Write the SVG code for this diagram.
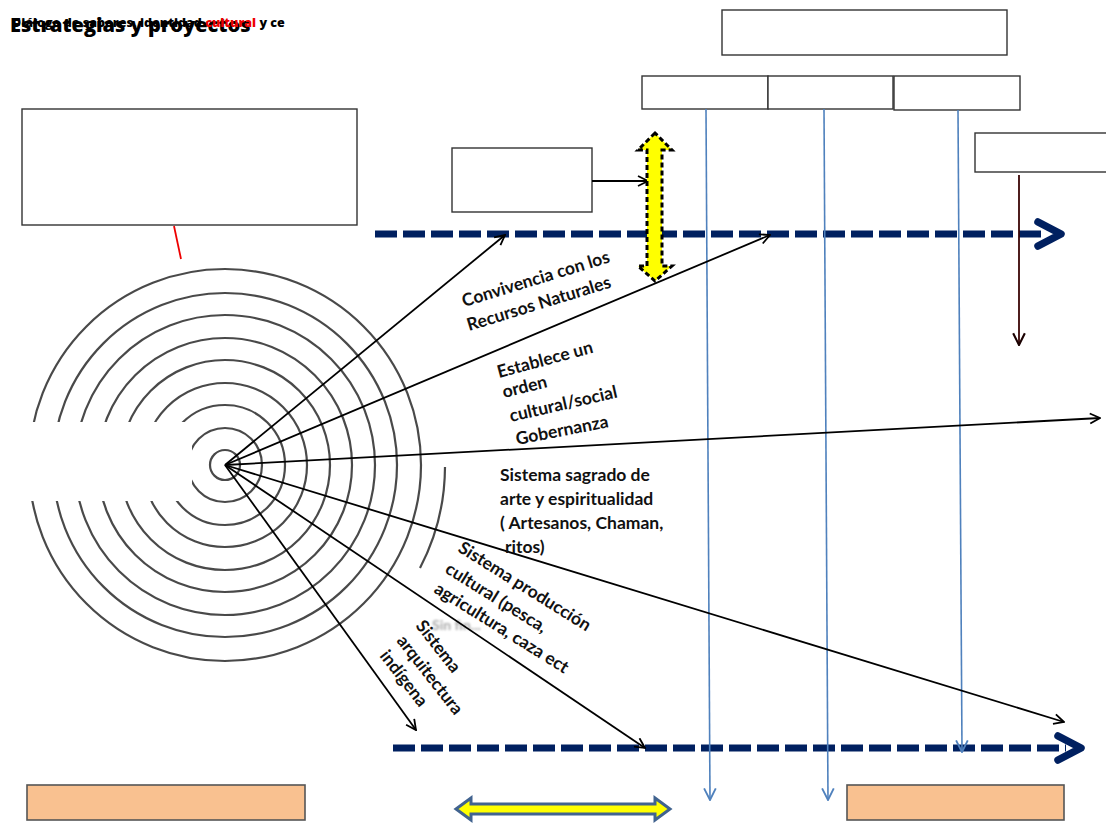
<svg xmlns="http://www.w3.org/2000/svg" width="1106" height="823" viewBox="0 0 1106 823">
<style>
.box{fill:#fff;stroke:#333;stroke-width:1.4}
.obox{fill:#f9c190;stroke:#555;stroke-width:1.6}
.ray{stroke:#000;stroke-width:1.8;fill:none}
.blue{stroke:#4f81bd;stroke-width:1.6;fill:none}
.dash{stroke:#002060;stroke-width:7;stroke-dasharray:22 6;fill:none}
.chev{stroke:#002060;stroke-width:7.5;fill:none;stroke-linecap:round;stroke-linejoin:round}
.ring{fill:none;stroke:#4a4a4a;stroke-width:2.2}
.lbl{font-family:Lato,"Open Sans","Liberation Sans",sans-serif;font-weight:bold;font-size:17.5px;fill:#111}
.hd{font-family:"Open Sans","Liberation Sans",sans-serif;font-weight:800;fill:#000}
</style>
<defs>
<marker id="ah" viewBox="0 0 12 12" refX="11" refY="6" markerWidth="12" markerHeight="12" markerUnits="userSpaceOnUse" orient="auto">
<path d="M1,1 L11,6 L1,11" fill="none" stroke="#000" stroke-width="1.8"/>
</marker>
<marker id="ahb" viewBox="0 0 12 12" refX="11" refY="6" markerWidth="14" markerHeight="14" markerUnits="userSpaceOnUse" orient="auto">
<path d="M1,1 L11,6 L1,11" fill="none" stroke="#4f81bd" stroke-width="1.6"/>
</marker>
<marker id="ahr" viewBox="0 0 12 12" refX="11" refY="6" markerWidth="14" markerHeight="14" markerUnits="userSpaceOnUse" orient="auto">
<path d="M1,1 L11,6 L1,11" fill="none" stroke="#1a0000" stroke-width="1.8"/>
</marker>
<filter id="soft"><feGaussianBlur stdDeviation="0.6"/></filter>
<filter id="blur2"><feGaussianBlur stdDeviation="0.9"/></filter>
</defs>

<g id="title">
<text class="hd" x="10" y="32" font-size="20">Estrategias y proyectos</text>
<text class="hd" x="12" y="27" font-size="12.5">Diálogo de saberes, identidad <tspan fill="#e00">cultural</tspan> y ce</text>
</g>

<g id="spiral" filter="url(#soft)">
<circle class="ring" cx="225" cy="465" r="15"/>
<circle class="ring" cx="225" cy="465" r="37"/>
<circle class="ring" cx="225" cy="465" r="60"/>
<circle class="ring" cx="225" cy="465" r="82"/>
<circle class="ring" cx="225" cy="465" r="105"/>
<circle class="ring" cx="225" cy="465" r="127"/>
<circle class="ring" cx="225" cy="465" r="150"/>
<circle class="ring" cx="225" cy="465" r="172"/>
<circle class="ring" cx="225" cy="465" r="196"/>
<path class="ring" d="M445,467 A220,220 0 0 1 420,568"/>
</g>
<rect id="mask" x="0" y="422" width="192" height="79" fill="#fff"/>
<text id="sinfin" x="432" y="630" font-family="Lato,'Liberation Sans',sans-serif" font-size="14" font-weight="bold" fill="#aaa" filter="url(#blur2)">Sin fin...</text>

<g id="box-top"><rect class="box" x="722" y="10" width="285" height="45"/></g>
<g id="box-a"><rect class="box" x="642" y="76" width="126" height="33"/></g>
<g id="box-b"><rect class="box" x="768" y="76" width="125" height="33"/></g>
<g id="box-c"><rect class="box" x="894" y="76" width="126" height="34"/></g>
<g id="box-right"><rect class="box" x="975" y="133" width="140" height="39"/></g>
<g id="box-left"><rect class="box" x="22" y="109" width="335" height="116"/></g>
<g id="box-small"><rect class="box" x="452" y="148" width="140" height="64"/></g>
<g id="box-bl"><rect class="obox" x="27" y="785" width="278" height="35"/></g>
<g id="box-br"><rect class="obox" x="847" y="785" width="217" height="35"/></g>

<g id="connectors">
<line x1="174" y1="226" x2="181" y2="259" stroke="#e00" stroke-width="1.8"/>
<line class="dash" x1="375" y1="234" x2="1046" y2="234"/>
<polyline class="chev" points="1038,222 1061,234 1038,246"/>
<line class="dash" x1="393" y1="748" x2="1066" y2="748"/>
<polyline class="chev" points="1058,736 1081,748 1058,760"/>

<line class="blue" x1="706" y1="109" x2="710" y2="800" marker-end="url(#ahb)"/>
<line class="blue" x1="824" y1="109" x2="828" y2="800" marker-end="url(#ahb)"/>
<line class="blue" x1="958" y1="110" x2="962" y2="752" marker-end="url(#ahb)"/>

<line x1="1019" y1="175" x2="1019" y2="345" stroke="#3a0505" stroke-width="1.8" marker-end="url(#ahr)"/>

<line class="ray" x1="225" y1="465" x2="505" y2="235" marker-end="url(#ah)"/>
<line class="ray" x1="225" y1="465" x2="770" y2="235" marker-end="url(#ah)"/>
<line class="ray" x1="225" y1="465" x2="1100" y2="418" marker-end="url(#ah)"/>
<line class="ray" x1="225" y1="465" x2="1064" y2="722" marker-end="url(#ah)"/>
<line class="ray" x1="225" y1="465" x2="645" y2="748" marker-end="url(#ah)"/>
<line class="ray" x1="225" y1="465" x2="416" y2="730" marker-end="url(#ah)"/>

<line class="ray" x1="592" y1="181" x2="648" y2="181" marker-end="url(#ah)"/>

<polygon points="655,133 638,150 647,150 647,266 638,266 655,281 672,266 662,266 662,150 672,150" fill="#ffff00" stroke="#000" stroke-width="3" stroke-dasharray="5 3" stroke-linejoin="miter"/>
<polygon points="456,809 471,798 471,804 655,804 655,798 670,809 655,820 655,814 471,814 471,820" fill="#ffff00" stroke="#41638f" stroke-width="3" stroke-linejoin="miter"/>
</g>

<g id="labels">
<g id="lbl-convivencia">
<text class="lbl" transform="translate(464,307) rotate(-17)">Convivencia con los</text>
<text class="lbl" transform="translate(469,331) rotate(-17)">Recursos Naturales</text>
</g>
<g id="lbl-orden">
<text class="lbl" transform="translate(499,378) rotate(-15)">Establece un</text>
<text class="lbl" transform="translate(504,398) rotate(-14)">orden</text>
<text class="lbl" transform="translate(511,422) rotate(-13)">cultural/social</text>
<text class="lbl" transform="translate(517,445) rotate(-11)">Gobernanza</text>
</g>
<g id="lbl-sagrado">
<text class="lbl" x="500" y="481">Sistema sagrado de</text>
<text class="lbl" x="500" y="505">arte y espiritualidad</text>
<text class="lbl" x="500" y="529">( Artesanos, Chaman,</text>
<text class="lbl" x="505" y="553">ritos)</text>
</g>
<g id="lbl-produccion">
<text class="lbl" transform="translate(457,551) rotate(32)">Sistema producción</text>
<text class="lbl" transform="translate(444,572) rotate(32)">cultural (pesca,</text>
<text class="lbl" transform="translate(433,592) rotate(32)">agricultura, caza ect</text>
</g>
<g id="lbl-arquitectura">
<text class="lbl" transform="translate(415,626) rotate(52)">Sistema</text>
<text class="lbl" transform="translate(396,641) rotate(52)">arquitectura</text>
<text class="lbl" transform="translate(379,656) rotate(52)">indígena</text>
</g>
</g>
</svg>
